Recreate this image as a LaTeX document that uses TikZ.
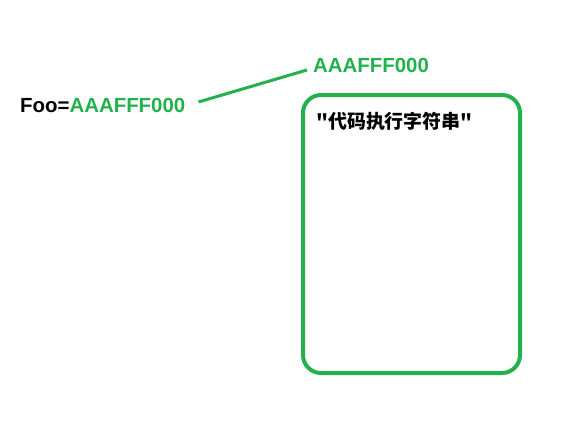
\documentclass[tikz,border=0pt]{standalone}
\usepackage{fontspec}
\setmainfont{Liberation Sans}
\newfontfamily\cjk{Noto Sans CJK SC}
\usetikzlibrary{positioning}
\definecolor{paintgreen}{HTML}{22B14C}

\begin{document}
\begin{tikzpicture}[x=1bp,y=-1bp,
    plain text/.style={font=\bfseries\fontsize{20.5}{24}\selectfont, inner sep=0pt, anchor=base west},
    cjk text/.style={font=\cjk\bfseries\fontsize{19}{22}\selectfont, inner sep=0pt, anchor=base west},
    code box/.style={draw=paintgreen, line width=4bp, rounded corners=18bp, minimum width=217bp, minimum height=278bp}]
    \useasboundingbox (0,0) rectangle (572,428);
    \node[plain text] (foo) at (20,112) {Foo=\textcolor{paintgreen}{AAAFFF000}};
    \node[plain text, text=paintgreen] (val) at (313,72) {AAAFFF000};
    \node[code box] (box) at (411.5,234) {};
    \node[cjk text] (code) at (316,128) {"代码执行字符串"};
    \draw[paintgreen, line width=3bp]
        ([xshift=13bp,yshift=3bp]foo.east) -- ([xshift=-6bp,yshift=-5bp]val.west);
\end{tikzpicture}
\end{document}
